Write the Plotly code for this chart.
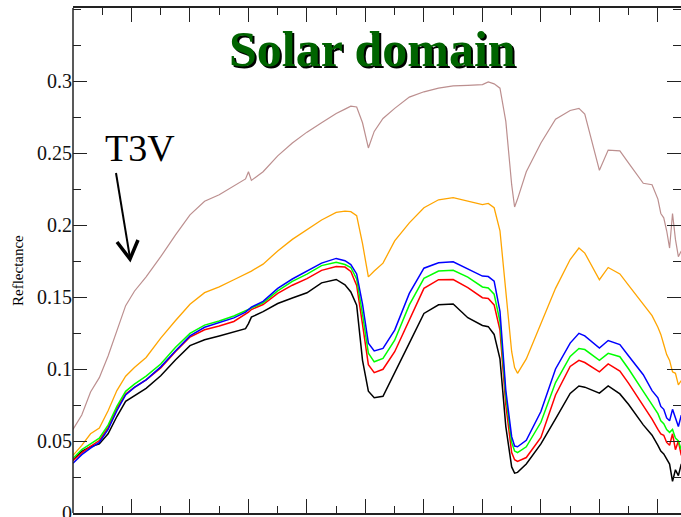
import plotly.graph_objects as go

# Wavelength grid (nm) shared by all spectra
wavelength = [400, 430, 460, 490, 520, 550, 580, 610,
              650, 700, 750, 800, 850, 900, 950,
              990, 1000, 1010,
              1050, 1100, 1150, 1200, 1250, 1300,
              1330, 1350, 1370, 1390, 1410, 1430, 1460,
              1500, 1550, 1600, 1650, 1700, 1750, 1800,
              1820, 1840, 1860, 1880, 1900, 1910, 1920,
              1950, 2000, 2050, 2100, 2130, 2150,
              2200, 2230, 2270, 2300, 2350, 2380,
              2400, 2410, 2420, 2430, 2440, 2450, 2460, 2470, 2480, 2490, 2500]

refl_brown = [0.058, 0.068, 0.084, 0.094, 0.109, 0.127, 0.144, 0.154,
              0.164, 0.178, 0.193, 0.207, 0.2165, 0.221, 0.227,
              0.232, 0.237, 0.231,
              0.237, 0.248, 0.257, 0.2645, 0.271, 0.2775,
              0.2805, 0.2825, 0.282, 0.271, 0.2535, 0.265, 0.274,
              0.281, 0.2888, 0.2925, 0.295, 0.2966, 0.297, 0.2975,
              0.2993, 0.298, 0.295, 0.272, 0.228, 0.2125, 0.218,
              0.237, 0.257, 0.2735, 0.2795, 0.281, 0.277,
              0.238, 0.252, 0.2515, 0.243, 0.229, 0.228,
              0.218, 0.208, 0.205, 0.196, 0.184, 0.208, 0.190, 0.178, 0.182, 0.176, 0.178]

refl_orange = [0.040, 0.047, 0.055, 0.059, 0.071, 0.085, 0.095, 0.101,
               0.108, 0.1215, 0.1335, 0.145, 0.153, 0.157, 0.162,
               0.166, 0.167, 0.168,
               0.1728, 0.182, 0.190, 0.1965, 0.2035, 0.2088,
               0.2097, 0.2093, 0.2065, 0.187, 0.164, 0.168, 0.1735,
               0.189, 0.2015, 0.212, 0.2175, 0.219, 0.2168, 0.2142,
               0.2150, 0.212, 0.196, 0.155, 0.112, 0.101, 0.097,
               0.107, 0.132, 0.156, 0.176, 0.184, 0.1805,
               0.162, 0.1705, 0.166, 0.158, 0.1445, 0.137,
               0.129, 0.124, 0.117, 0.110, 0.106, 0.098, 0.097, 0.089, 0.092, 0.086, 0.088]

refl_blue = [0.0345, 0.0405, 0.045, 0.049, 0.058, 0.071, 0.082, 0.0872,
             0.0925, 0.1015, 0.1125, 0.123, 0.129, 0.1322, 0.1355,
             0.1395, 0.1415, 0.143,
             0.147, 0.156, 0.1625, 0.168, 0.1735, 0.1768,
             0.1752, 0.1725, 0.166, 0.145, 0.118, 0.1125, 0.1143,
             0.127, 0.1525, 0.170, 0.1738, 0.1745, 0.1695, 0.1645,
             0.1642, 0.161, 0.140, 0.085, 0.053, 0.0465, 0.046,
             0.0505, 0.0705, 0.100, 0.118, 0.1248, 0.123,
             0.1145, 0.1198, 0.117, 0.109, 0.096, 0.085,
             0.080, 0.074, 0.072, 0.066, 0.064, 0.072, 0.066, 0.060, 0.068, 0.058, 0.062]

refl_green = [0.038, 0.044, 0.048, 0.052, 0.061, 0.074, 0.0845, 0.0895,
              0.095, 0.1035, 0.115, 0.1247, 0.1305, 0.1333, 0.1368,
              0.1405, 0.1415, 0.1425,
              0.146, 0.1543, 0.1608, 0.1659, 0.1718, 0.1742,
              0.1726, 0.1705, 0.1625, 0.138, 0.111, 0.105, 0.1073,
              0.120, 0.1445, 0.163, 0.168, 0.1685, 0.1638, 0.157,
              0.1563, 0.152, 0.133, 0.081, 0.049, 0.043, 0.042,
              0.046, 0.063, 0.0906, 0.1087, 0.1142, 0.1135,
              0.106, 0.1109, 0.1085, 0.100, 0.0845, 0.075,
              0.069, 0.064, 0.062, 0.058, 0.056, 0.058, 0.052, 0.050, 0.044, 0.048, 0.045]

refl_red = [0.0363, 0.0418, 0.0462, 0.0503, 0.0595, 0.0727, 0.0826, 0.0873,
            0.0925, 0.1008, 0.112, 0.1222, 0.1272, 0.1298, 0.133,
            0.1378, 0.1395, 0.1413,
            0.1448, 0.1525, 0.1582, 0.1628, 0.1685, 0.1712,
            0.1708, 0.1678, 0.158, 0.131, 0.103, 0.0975, 0.0998,
            0.112, 0.134, 0.156, 0.162, 0.1621, 0.1565, 0.1495,
            0.149, 0.1445, 0.127, 0.075, 0.042, 0.037, 0.0358,
            0.0385, 0.0525, 0.082, 0.1018, 0.106, 0.1045,
            0.098, 0.1035, 0.0985, 0.090, 0.0745, 0.0652,
            0.058, 0.055, 0.054, 0.049, 0.047, 0.055, 0.044, 0.050, 0.040, 0.046, 0.043]

refl_black = [0.0368, 0.0428, 0.046, 0.048, 0.055, 0.067, 0.0775, 0.0815,
              0.0866, 0.0953, 0.1063, 0.1162, 0.1203, 0.1229, 0.1255,
              0.128, 0.1315, 0.136,
              0.1398, 0.1455, 0.1493, 0.1529, 0.1598, 0.1622,
              0.1585, 0.1535, 0.1443, 0.106, 0.0846, 0.080, 0.081,
              0.097, 0.118, 0.1386, 0.1446, 0.1452, 0.1356, 0.1302,
              0.1294, 0.124, 0.107, 0.060, 0.032, 0.0277, 0.0282,
              0.034, 0.048, 0.0654, 0.083, 0.0882, 0.0874,
              0.0832, 0.0882, 0.0827, 0.0753, 0.0612, 0.054,
              0.047, 0.043, 0.041, 0.037, 0.034, 0.022, 0.030, 0.026, 0.034, 0.028, 0.032]

y_tick_vals = [0, 0.05, 0.1, 0.15, 0.2, 0.25, 0.3]
y_tick_text = ["0", "0.05", "0.1", "0.15", "0.2", "0.25", "0.3"]

series = [
    (refl_black, "#000000", 1.5),
    (refl_red, "#ff0000", 1.5),
    (refl_green, "#00ff00", 1.5),
    (refl_blue, "#0000ff", 1.5),
    (refl_orange, "#ffa500", 1.3),
    (refl_brown, "#bc8f8f", 1.2),
]

fig = go.Figure()
for vals, color, width in series:
    fig.add_trace(go.Scatter(x=wavelength, y=vals, mode="lines",
                             line=dict(color=color, width=width),
                             showlegend=False, hoverinfo="skip"))

W, H = 681, 517
ML, MR, MT, MB = 73, 0, 8, 4
PW, PH = W - ML - MR, H - MT - MB


def px(x):
    return (x - ML) / PW


def py(y):
    return (H - MB - y) / PH


serif = "Liberation Serif, Times New Roman, serif"
axis_color = "#222222"

fig.update_layout(
    width=W, height=H,
    margin=dict(l=ML, r=MR, t=MT, b=MB, pad=0, autoexpand=False),
    paper_bgcolor="white", plot_bgcolor="white",
    font=dict(family=serif, color="black"),
    xaxis=dict(range=[400, 2479], tick0=400, dtick=200, ticks="inside",
               ticklen=14, tickwidth=1.3, tickcolor=axis_color,
               minor=dict(dtick=100, ticks="inside", ticklen=7, tickwidth=1.3, tickcolor=axis_color),
               showticklabels=False, showgrid=False, zeroline=False, automargin=False,
               showline=True, linecolor=axis_color, linewidth=1.5, mirror="ticks"),
    yaxis=dict(range=[0, 0.3507], tickvals=y_tick_vals, ticktext=y_tick_text,
               ticks="inside", ticklen=14, tickwidth=1.3, tickcolor=axis_color,
               minor=dict(dtick=0.025, ticks="inside", ticklen=8, tickwidth=1.3, tickcolor=axis_color),
               tickfont=dict(family=serif, size=20, color="#111111"),
               ticklabeloverflow="allow", automargin=False,
               showgrid=False, zeroline=False,
               showline=False, mirror="ticks"),
)

# left axis line (the right-hand frame edge lies outside the visible area)
fig.add_shape(type="line", xref="paper", yref="paper", x0=0, x1=0, y0=0, y1=1,
              line=dict(color=axis_color, width=1.5))

# axis title
fig.add_annotation(x=px(18), y=py(271), xref="paper", yref="paper",
                   text="Reflectance", textangle=-90, showarrow=False,
                   font=dict(family=serif, size=15, color="black"),
                   xanchor="center", yanchor="middle")

# title with drop shadow
fig.add_annotation(x=px(372), y=py(49), xref="paper", yref="paper",
                   text="<b>Solar domain</b>", showarrow=False,
                   font=dict(family=serif, size=50, color="#006400",
                             shadow="2px 2px 0px #000000"),
                   xanchor="center", yanchor="middle")

# T3V label and arrow
fig.add_annotation(x=px(140), y=py(148), xref="paper", yref="paper",
                   text="T3V", showarrow=False,
                   font=dict(family=serif, size=38, color="black"),
                   xanchor="center", yanchor="middle")
fig.add_shape(type="line", xref="paper", yref="paper",
              x0=px(116), y0=py(173), x1=px(130), y1=py(258),
              line=dict(color="black", width=2))
fig.add_shape(type="path", xref="paper", yref="paper",
              path=f"M{px(117)},{py(242)} L{px(130)},{py(259)} L{px(138)},{py(240)}",
              line=dict(color="black", width=3.5))

fig.write_html("out.html")
